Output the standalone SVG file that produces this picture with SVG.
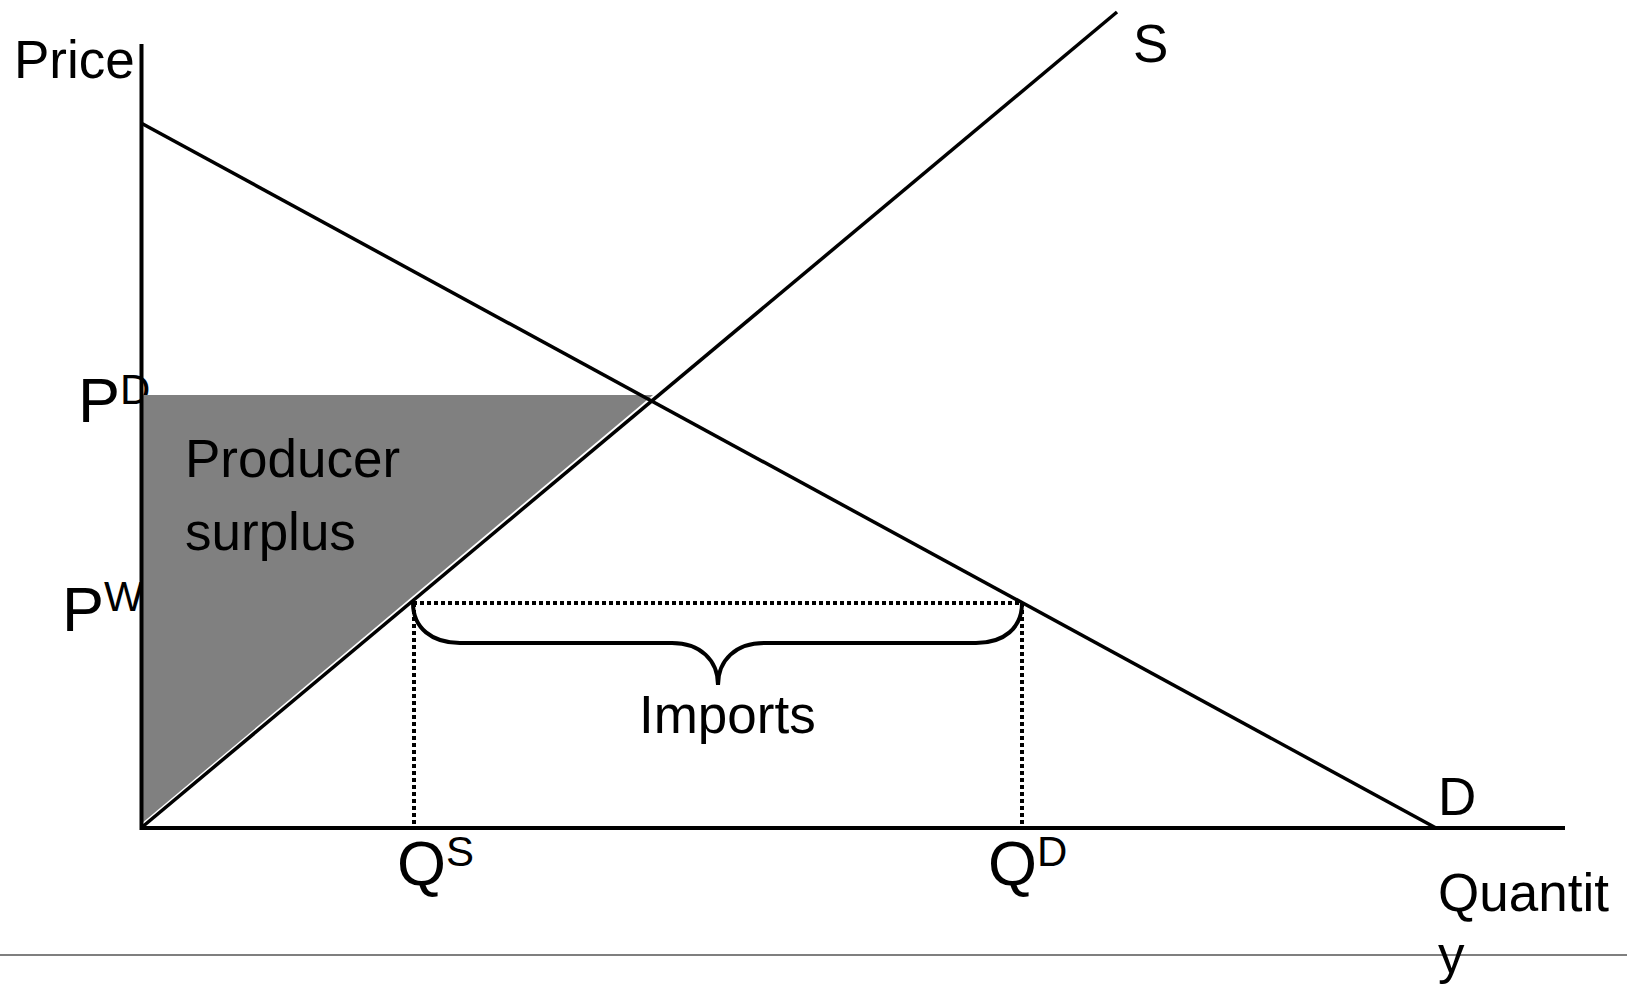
<svg xmlns="http://www.w3.org/2000/svg" width="1627" height="986" viewBox="0 0 1627 986">
  <style>
    text { font-family: "Liberation Sans", Arial, sans-serif; fill: #000; }
    .lbl { font-size: 53px; }
    .big { font-size: 63px; }
    .sup { font-size: 42px; }
    .curve { stroke: #000; stroke-width: 3.5; fill: none; }
    .brace { stroke: #000; stroke-width: 4; fill: none; }
    .axis { stroke: #000; stroke-width: 4; fill: none; }
    .guide { stroke: #000; stroke-width: 4; stroke-dasharray: 4 3; fill: none; }
  </style>

  <rect width="1627" height="986" fill="#fff"/>

  <!-- price labels sit beneath the shaded area -->
  <g id="label-pd">
    <text class="big" x="78" y="422">P<tspan class="sup" dy="-18">D</tspan></text>
  </g>
  <g id="label-pw">
    <text class="big" x="62" y="631">P<tspan class="sup" dy="-20">W</tspan></text>
  </g>

  <!-- producer surplus area -->
  <g id="producer-surplus">
    <polygon points="141,395 653,395 141,824" fill="#808080"/>
    <text class="lbl" x="185" y="477">Producer</text>
    <text class="lbl" x="185" y="550">surplus</text>
  </g>

  <g id="connectors">
    <!-- axes -->
    <polyline class="axis" points="141.5,44 141.5,828 1565,828"/>
    <!-- demand and supply curves -->
    <line class="curve" x1="141" y1="123" x2="1436" y2="828"/>
    <line class="curve" x1="141" y1="828" x2="1117" y2="12"/>
    <!-- world price guide and quantity drop lines -->
    <line class="guide" x1="413" y1="603" x2="1022" y2="603"/>
    <line class="guide" x1="414" y1="603" x2="414" y2="828"/>
    <line class="guide" x1="1022" y1="603" x2="1022" y2="828"/>
    <!-- imports brace -->
    <path class="brace" d="M413,603 C413,628 432,643 460,643 L672,643 C700,643 718,660 718,685 C718,660 736,643 764,643 L976,643 C1004,643 1022,628 1022,603"/>
    <!-- bottom rule -->
    <line x1="0" y1="955" x2="1627" y2="955" stroke="#555" stroke-width="1.5"/>
  </g>

  <g id="label-price"><text class="lbl" x="14" y="78">Price</text></g>
  <g id="label-s"><text class="lbl" x="1133" y="62">S</text></g>
  <g id="label-d"><text class="lbl" x="1438" y="815">D</text></g>
  <g id="label-quantity">
    <text class="lbl" x="1438" y="911">Quantit</text>
    <text class="lbl" x="1438" y="973">y</text>
  </g>
  <g id="label-imports"><text class="lbl" x="639" y="733">Imports</text></g>
  <g id="label-qs">
    <text class="big" x="397" y="885">Q<tspan class="sup" dy="-19">S</tspan></text>
  </g>
  <g id="label-qd">
    <text class="big" x="988" y="885">Q<tspan class="sup" dy="-19">D</tspan></text>
  </g>
</svg>
